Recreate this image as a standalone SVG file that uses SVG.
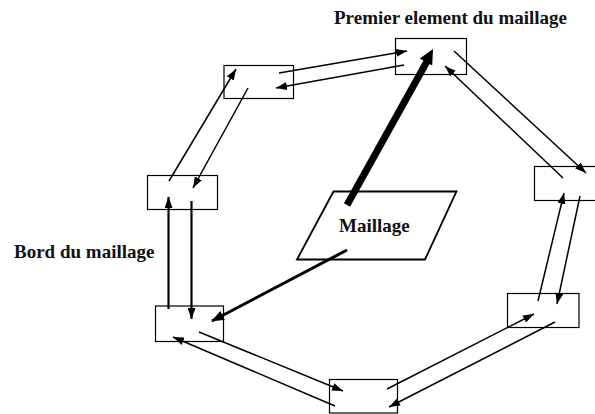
<svg xmlns="http://www.w3.org/2000/svg" width="595" height="414" viewBox="0 0 595 414">
<defs>
<style>
.box{fill:none;stroke:#000;stroke-width:1.2}
.ln{fill:none;stroke:#000;stroke-width:1.5;marker-end:url(#ah)}
.ln2{fill:none;stroke:#000;stroke-width:2.2;marker-end:url(#ah)}
.ln3{fill:none;stroke:#000;stroke-width:3;marker-end:url(#ah2)}
.lbl{font-family:"Liberation Serif","Times New Roman",serif;font-weight:bold;font-size:19px;fill:#111}
</style>
<marker id="ah" markerUnits="userSpaceOnUse" markerWidth="11" markerHeight="8" refX="11" refY="4" orient="auto">
<path d="M0,0 L11,4 L0,8 z" fill="#000"/>
</marker>
<marker id="ah2" markerUnits="userSpaceOnUse" markerWidth="13" markerHeight="10" refX="12" refY="5" orient="auto">
<path d="M0,0 L13,5 L0,10 z" fill="#000"/>
</marker>
</defs>
<rect width="595" height="414" fill="#fff"/>
<g id="title"><text class="lbl" x="334" y="24">Premier element du maillage</text></g>
<g id="bord-label"><text class="lbl" x="14" y="258">Bord du maillage</text></g>
<g id="n-top"><rect class="box" x="395.5" y="38.5" width="71" height="36"/></g>
<g id="n-topleft"><rect class="box" x="224" y="65.5" width="69.5" height="33"/></g>
<g id="n-left"><rect class="box" x="147.5" y="175.5" width="70" height="34"/></g>
<g id="n-bottomleft"><rect class="box" x="155.5" y="306" width="68" height="35.5"/></g>
<g id="n-bottom"><rect class="box" x="329.5" y="379.5" width="68" height="33.5"/></g>
<g id="n-bottomright"><rect class="box" x="507.5" y="293.5" width="71.5" height="34"/></g>
<g id="n-right"><rect class="box" x="534.5" y="166.5" width="70" height="34"/></g>
<g id="n-maillage">
<polygon points="333.5,191.5 456.5,191.5 425,259.5 297,259.5" fill="none" stroke="#000" stroke-width="1.8"/>
<text class="lbl" x="339" y="232">Maillage</text>
</g>
<g id="connectors">
<line class="ln" x1="279" y1="73" x2="407" y2="51"/>
<line class="ln" x1="404" y1="65" x2="276" y2="88"/>
<line class="ln" x1="169" y1="181" x2="236" y2="69"/>
<line class="ln" x1="248" y1="88" x2="193" y2="188"/>
<line class="ln2" x1="168.5" y1="309" x2="168.5" y2="197"/>
<line class="ln2" x1="191.5" y1="201" x2="191.5" y2="319"/>
<line class="ln" x1="199" y1="332" x2="343" y2="391"/>
<line class="ln" x1="335" y1="406" x2="173" y2="337"/>
<line class="ln" x1="387" y1="389" x2="534" y2="314"/>
<line class="ln" x1="555" y1="322" x2="389" y2="407"/>
<line class="ln" x1="538" y1="301" x2="564" y2="193"/>
<line class="ln" x1="580" y1="196" x2="557" y2="304"/>
<line class="ln" x1="454" y1="51" x2="586" y2="173"/>
<line class="ln" x1="563" y1="178" x2="445" y2="66"/>
<line class="ln3" x1="347" y1="250" x2="212" y2="321"/>
<line x1="347" y1="205" x2="427.5" y2="60.5" stroke="#000" stroke-width="7"/>
<polygon points="433,49 432.2,65.5 419.8,58.6" fill="#000"/>
</g>
</svg>
